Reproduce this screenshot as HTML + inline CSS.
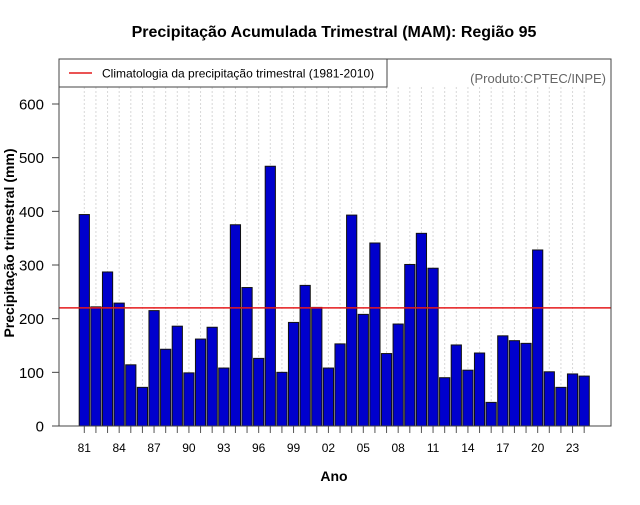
<!DOCTYPE html>
<html><head><meta charset="utf-8"><style>
body{margin:0;background:#fff;}
svg text{font-family:"Liberation Sans",sans-serif;}
</style></head><body>
<svg id="chart" width="640" height="500" xmlns="http://www.w3.org/2000/svg">
<text x="334" y="37" text-anchor="middle" font-size="16" font-weight="bold">Precipitação Acumulada Trimestral (MAM): Região 95</text>
<g id="grid"></g>
<g id="bars"></g>
<g id="xaxis"></g>
<g id="yaxis"></g>
<line id="clim" stroke="#e41a1c" stroke-width="1.5"/>
<rect x="59" y="59" width="552" height="367" fill="none" stroke="#444" stroke-width="1"/>
<g>
<rect x="59" y="59" width="328" height="28" fill="#fff" stroke="#444" stroke-width="1"/>
<line x1="69" y1="73" x2="92" y2="73" stroke="#e41a1c" stroke-width="1.5"/>
<text x="102" y="77.5" font-size="12">Climatologia da precipitação trimestral (1981-2010)</text>
</g>
<text x="606" y="83" text-anchor="end" font-size="13" fill="#666">(Produto:CPTEC/INPE)</text>
<text x="334" y="481" text-anchor="middle" font-size="14" font-weight="bold">Ano</text>
<text transform="translate(14,243) rotate(-90)" text-anchor="middle" font-size="14" font-weight="bold">Precipitação trimestral (mm)</text>
</svg>
<script>
const years=[1981,1982,1983,1984,1985,1986,1987,1988,1989,1990,1991,1992,1993,1994,1995,1996,1997,1998,1999,2000,2001,2002,2003,2004,2005,2006,2007,2008,2009,2010,2011,2012,2013,2014,2015,2016,2017,2018,2019,2020,2021,2022,2023,2024];
const precip=[394,222,287,229,114,72,215,143,186,99,162,184,108,375,258,126,484,100,193,262,221,108,153,393,208,341,135,190,301,359,294,90,151,104,136,44,168,159,154,328,101,72,97,93];
const climatology=220;
const yTicks=[0,100,200,300,400,500,600];
const NS="http://www.w3.org/2000/svg";
const y0=426, yScale=(426-104)/600;
function yPos(v){return y0-v*yScale;}
function xPos(i){return 84.3+i*11.625;}
function mk(t,a,p){const e=document.createElementNS(NS,t);for(const k in a)e.setAttribute(k,a[k]);p.appendChild(e);return e;}
const grid=document.getElementById('grid'),bars=document.getElementById('bars'),xa=document.getElementById('xaxis'),ya=document.getElementById('yaxis');
years.forEach((yr,i)=>{
  const x=xPos(i);
  const g=mk('line',{x1:x,x2:x,y1:87,y2:426,stroke:'#d8d8d8','stroke-dasharray':'2,2','stroke-width':1},grid);
  
  
  const b=mk('rect',{x:x-5.1,y:yPos(precip[i]),width:10.2,height:precip[i]*yScale,fill:'#0000cd',stroke:'#111','stroke-width':1},bars);
  
  
  const t=mk('line',{x1:x,x2:x,y1:426,y2:433,stroke:'#555'},xa);
  
  
  if(i%3===0){
    const l=mk('text',{x:x,y:452,'text-anchor':'middle','font-size':12},xa);
    l.textContent=String(yr%100).padStart(2,'0');
    
    
  }
});
yTicks.forEach(v=>{
  const y=yPos(v);
  const t=mk('line',{x1:52,x2:59,y1:y,y2:y,stroke:'#444'},ya);
  
  
  const l=mk('text',{x:44,y:y+5.5,'text-anchor':'end','font-size':15},ya);
  l.textContent=v;
  
  
});
const c=document.getElementById('clim');
c.setAttribute('x1',59);c.setAttribute('x2',611);
c.setAttribute('y1',yPos(climatology));c.setAttribute('y2',yPos(climatology));
</script>
</body></html>
